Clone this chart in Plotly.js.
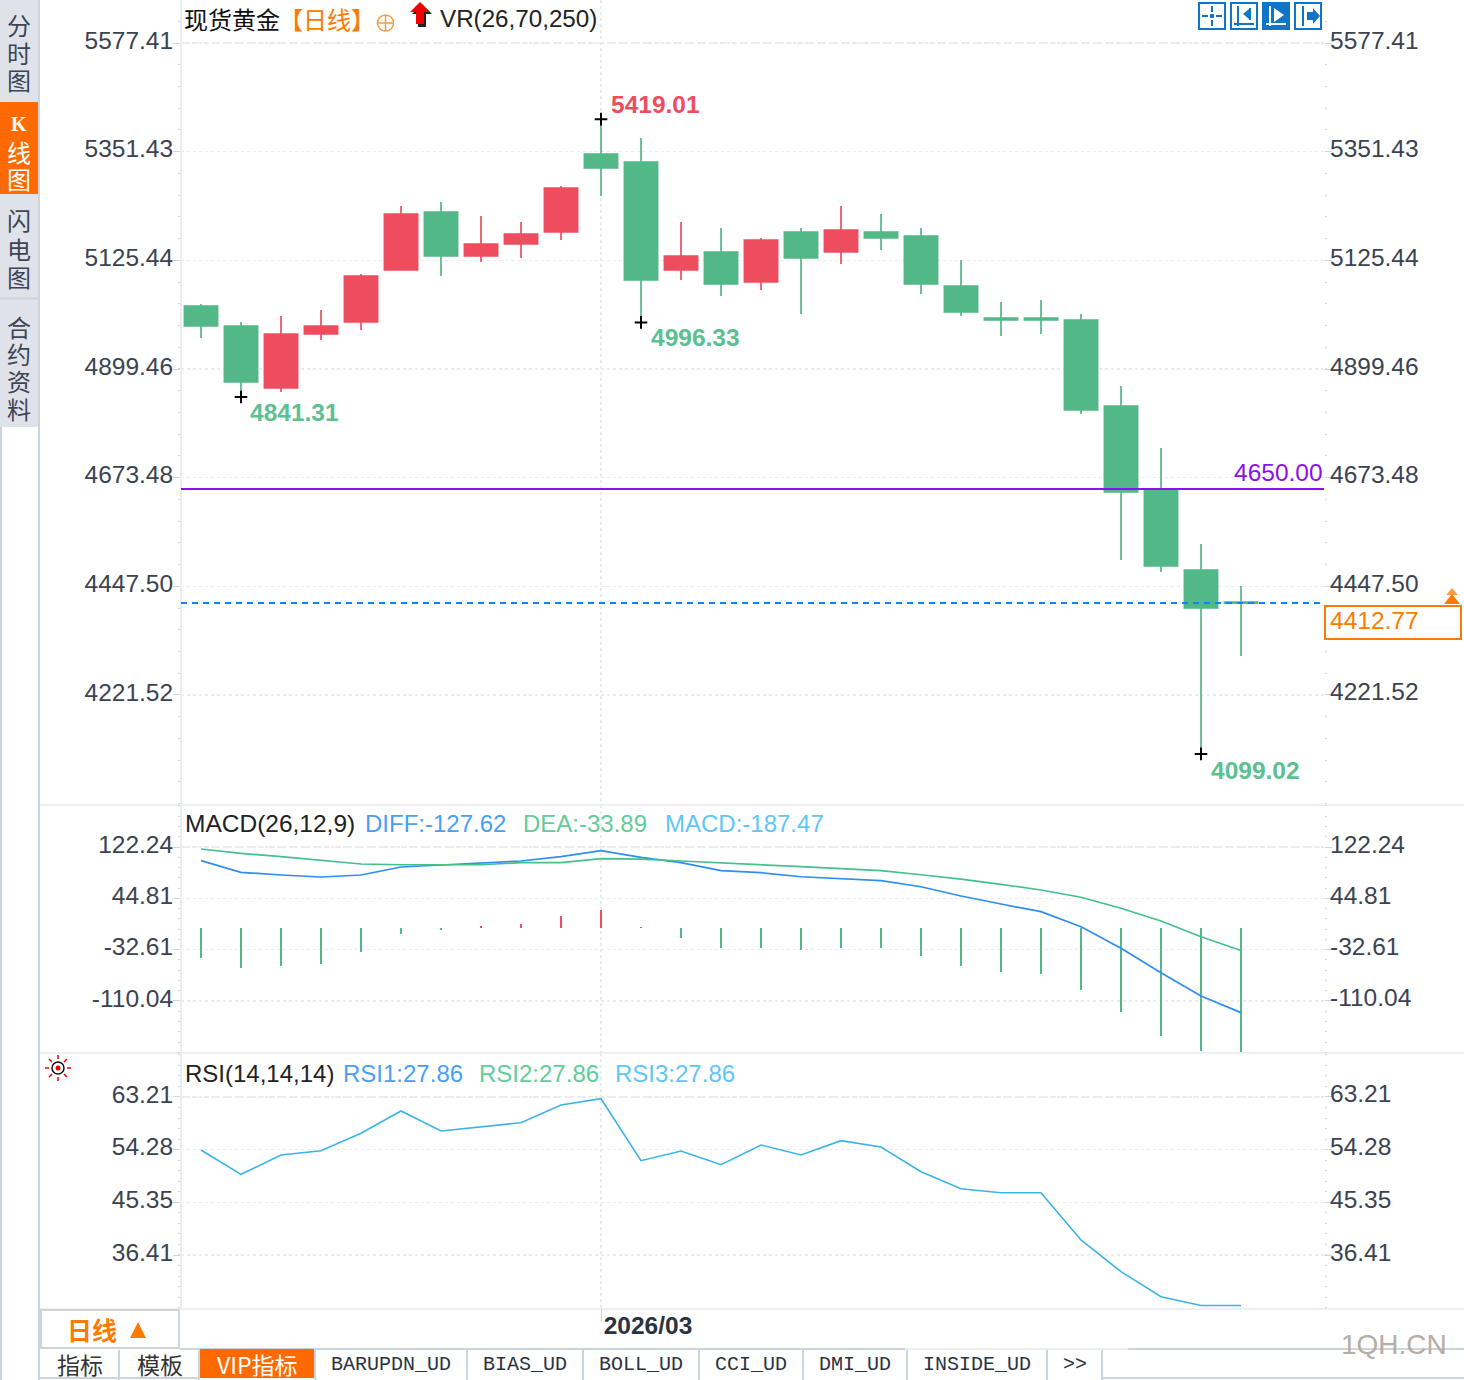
<!DOCTYPE html>
<html><head><meta charset="utf-8">
<script src="https://cdn.plot.ly/plotly-3.0.1.min.js"></script>
<style>html,body{margin:0;padding:0;background:#fff;overflow:hidden}#c{width:1464px;height:1380px}</style>
</head><body><div id="c"></div>
<script>
const idx=[0,1,2,3,4,5,6,7,8,9,10,11,12,13,14,15,16,17,18,19,20,21,22,23,24,25,26];
const opens=[5030.47,4988.88,4859.95,4972.24,4997.20,5105.34,5225.95,5134.46,5159.41,5184.36,5346.57,5329.93,5105.34,5142.77,5080.38,5184.36,5142.77,5184.36,5176.05,5072.07,5005.52,5005.52,5001.36,4822.51,4647.83,4481.45,4414.91];
const highs=[5034.63,4997.20,5009.68,5022.15,5097.02,5238.43,5246.75,5217.64,5205.16,5280.02,5419.01,5379.84,5205.16,5192.68,5171.89,5192.68,5238.43,5221.80,5192.68,5126.13,5038.79,5042.95,5013.84,4864.10,4735.17,4535.53,4448.18];
const lows=[4963.93,4841.31,4851.63,4959.77,4980.56,5105.34,5092.86,5121.98,5130.30,5167.73,5259.23,4996.33,5084.54,5051.27,5063.75,5013.84,5117.82,5146.93,5055.43,5009.68,4968.08,4972.24,4805.87,4502.25,4477.30,4099.02,4302.61];
const closes=[4988.88,4872.42,4972.24,4988.88,5092.86,5221.80,5134.46,5159.41,5180.21,5275.87,5317.46,5084.54,5134.46,5076.22,5167.73,5130.30,5188.52,5171.89,5076.22,5018.00,5001.36,5001.36,4814.19,4643.67,4489.77,4402.43,4412.77];
const diff=[101.6,84.1,80.0,77.0,80.0,92.1,95.1,98.6,101.1,107.6,116.7,106.7,98.6,86.5,83.5,77.4,74.4,71.4,62.3,48.3,36.2,24.7,2.0,-30.6,-67.4,-102.5,-127.62];
const dea=[119.2,112.7,107.6,101.6,96.6,95.5,95.5,95.5,98.6,98.6,104.6,104.1,101.1,98.6,95.5,92.5,89.5,86.5,80.4,73.9,65.9,57.4,46.4,29.8,10.6,-13.1,-33.89];
const macd=[-45.3,-60.3,-57.3,-54.3,-36.2,-9.1,-3.0,3.0,6.0,18.1,27.2,2.3,-15.1,-30.2,-30.2,-33.2,-30.2,-30.2,-42.2,-57.3,-66.4,-69.4,-93.5,-126.7,-162.9,-186.0,-187.47];
const rsi=[54.22,50.10,53.38,54.10,57.05,60.84,57.45,58.12,58.85,61.85,62.92,52.41,54.05,51.73,55.07,53.38,55.80,54.73,50.54,47.66,46.98,46.98,38.96,33.59,29.35,27.86,27.86];
const priceTicks=[5577.41,5351.43,5125.44,4899.46,4673.48,4447.50,4221.52];
const macdTicks=[122.24,44.81,-32.61,-110.04];
const rsiTicks=[63.21,54.28,45.35,36.41];
const fmt=v=>v.toFixed(2);
const extremes=[{i:10,v:5419.01,c:'#ee4d5f',dx:9,dy:15},{i:1,v:4841.31,c:'#5cc093',dx:8,dy:-16},{i:11,v:4996.33,c:'#5cc093',dx:9,dy:-15},{i:25,v:4099.02,c:'#5cc093',dx:9,dy:-17}];
const alertLevel=4650.00, lastPrice=4412.77;

const W=1464,H=1380,FS=24.5,SANS='"Liberation Sans",Arial,sans-serif',CJK='"Noto Sans CJK SC","Noto Sans",sans-serif',RAIL='"Liberation Sans","Noto Sans CJK SC",sans-serif',MONO='"Liberation Mono",monospace';
const GREEN='#53b887',RED='#ee4d5f',TICK='#3b4351',ORANGE='#ff7a00',BORDER='#cdd5dc',SEP='#ecf0f4';
const fx=x=>x/W,fy=y=>1-y/H;
const shapes=[],ann=[];
function rect(x0,y0,x1,y1,fill,line,lw,layer){shapes.push({type:'rect',xref:'paper',yref:'paper',x0:fx(x0),x1:fx(x1),y0:fy(y0),y1:fy(y1),fillcolor:fill||'rgba(0,0,0,0)',line:{width:line?(lw||1):0,color:line||'rgba(0,0,0,0)'},layer:layer||'above'});}
function seg(x0,y0,x1,y1,c,w,dash,layer){shapes.push({type:'line',xref:'paper',yref:'paper',x0:fx(x0),x1:fx(x1),y0:fy(y0),y1:fy(y1),line:{color:c,width:w||1,dash:dash||'solid'},layer:layer||'above'});}
function poly(pts,fill,line,lw){shapes.push({type:'path',xref:'paper',yref:'paper',path:'M'+pts.map(p=>fx(p[0])+' '+fy(p[1])).join(' L')+' Z',fillcolor:fill,line:{width:line?(lw||1):0,color:line||'rgba(0,0,0,0)'},layer:'above'});}
function circ(cx,cy,r,fill,line,lw){shapes.push({type:'circle',xref:'paper',yref:'paper',x0:fx(cx-r),x1:fx(cx+r),y0:fy(cy-r),y1:fy(cy+r),fillcolor:fill||'rgba(0,0,0,0)',line:{width:line?(lw||1):0,color:line||'rgba(0,0,0,0)'},layer:'above'});}
function txt(s,x,y,anchor,color,size,family,bold){ann.push({text:bold?'<b>'+s+'</b>':s,xref:'paper',yref:'paper',x:fx(x),y:fy(y),xanchor:anchor,yanchor:'middle',showarrow:false,borderpad:0,font:{family:family||SANS,size:size||FS,color:color||TICK}});}

// left rail
rect(0,0,38,427,'#e0e2ea',null,0,'below');
rect(0,102,38,194,'#ff6a00',null,0,'below');
seg(0,298.5,38,298.5,'#c9d1d9',2,'solid','below');
seg(39,0,39,1380,BORDER,2,'solid','below');
seg(1,427,1,1380,BORDER,2,'solid','below');
[['分',27],['时',55],['图',82],['线',153,'#fff'],['图',180,'#fff'],['闪',222],['电',250],['图',278],['合',328],['约',355],['资',382],['料',410]].forEach(a=>txt(a[0],19,a[1],'center',a[2]||'#3d4555',24,RAIL));
txt('K',19,124,'center','#fff',20,'"Liberation Serif",serif',true);
// pane separators and spine
[805,1053,1309].forEach(y=>seg(40,y,1464,y,SEP,2,'solid','below'));
seg(181,0,181,1309,'#e9eef2',2,'solid','below');
// header row
txt('现货黄金',183,19,'left','#111',24,CJK);
txt('【日线】',278,19,'left',ORANGE,24,CJK);
circ(385.5,23,8,null,'#ff9a40',1.5);seg(377,23,394,23,'#ff9a40',1.5);seg(385.5,15,385.5,31,'#ff9a40',1.5);
poly([[422,4],[432,14],[426,14],[426,27],[418,27],[418,14],[412,14]],'#222');
poly([[420,2],[430,12],[424,12],[424,24],[416,24],[416,12],[410,12]],'#f00000');
txt('VR(26,70,250)',439,19,'left','#222',24.2);
// toolbar
const tb='#0f75c8';
[1199,1231,1263,1295].forEach((x,i)=>rect(x,3,x+26,29,i==2?tb:'#fff',tb,2));
seg(1212,6,1212,12,tb,2);seg(1212,20,1212,26,tb,2);seg(1202,16,1208,16,tb,2);seg(1216,16,1222,16,tb,2);rect(1210,14,1214,18,tb);
seg(1238,6,1238,26,tb,2);seg(1234,24,1254,24,tb,2);seg(1250,8,1250,20,tb,2);poly([[1249,9],[1243,14],[1249,19]],tb);
seg(1270,6,1270,26,'#fff',2);seg(1266,24,1286,24,'#fff',2);poly([[1274,8],[1284,15],[1274,22]],'#fff');
seg(1303,6,1303,26,tb,2);poly([[1307,12],[1313,12],[1313,8],[1320,16],[1313,24],[1313,20],[1307,20]],tb);
// MACD / RSI headers
txt('MACD(26,12,9)',184,823,'left','#222');
txt('DIFF:-127.62',364,823,'left','#4a9ff5',24);
txt('DEA:-33.89',522,823,'left','#62cc9a',24);
txt('MACD:-187.47',664,823,'left','#5fc6f5',24);
txt('RSI(14,14,14)',184,1073,'left','#222',24);
txt('RSI1:27.86',342,1073,'left','#4a9ff5',24);
txt('RSI2:27.86',478,1073,'left','#62cc9a',24);
txt('RSI3:27.86',614,1073,'left','#5fc6f5',24);
// sun icon
circ(58,1068,6,'#fff','#111',1.5);circ(58,1068,2.5,'#f00000');
[[58,1055,58,1059],[58,1077,58,1081],[45,1068,49,1068],[67,1068,71,1068],[49,1059,52,1062],[64,1074,67,1077],[49,1077,52,1074],[64,1062,67,1059]].forEach(s=>seg(s[0],s[1],s[2],s[3],'#f00000',1.5));
// right tick labels
function rightLabels(t,yr){t.forEach(v=>ann.push({text:fmt(v),xref:'paper',yref:yr,x:fx(1329),y:v,xanchor:'left',yanchor:'middle',yshift:3,showarrow:false,borderpad:0,font:{family:SANS,size:FS,color:TICK}}));}
rightLabels(priceTicks,'y');rightLabels(macdTicks,'y2');rightLabels(rsiTicks,'y3');
// extreme labels
extremes.forEach(e=>ann.push({text:'<b>'+fmt(e.v)+'</b>',xref:'x',yref:'y',x:e.i,y:e.v,xanchor:'left',yanchor:'middle',xshift:e.dx,yshift:e.dy,showarrow:false,borderpad:0,font:{family:SANS,size:FS,color:e.c}}));
// alert and last-price lines
shapes.push({type:'line',xref:'paper',yref:'y',x0:fx(181),x1:fx(1324),y0:alertLevel,y1:alertLevel,line:{color:'#8a10f0',width:2},layer:'above'});
shapes.push({type:'line',xref:'paper',yref:'y',x0:fx(181),x1:fx(1324),y0:lastPrice,y1:lastPrice,line:{color:'#0a84ff',width:2,dash:'6px,5px'},layer:'above'});
ann.push({text:fmt(alertLevel),xref:'paper',yref:'y',x:fx(1324),y:alertLevel,xanchor:'right',yanchor:'middle',yshift:16,showarrow:false,borderpad:0,font:{family:SANS,size:FS,color:'#8a10f0'}});
rect(1325,606,1461,639,'#fff',ORANGE,2);
txt(fmt(lastPrice),1329,621,'left',ORANGE);
poly([[1452,588],[1458,595],[1446,595]],'#ff9a40');poly([[1452,594],[1460,604],[1444,604]],ORANGE);
// top gridlines are dashed
[['y',priceTicks[0]],['y2',macdTicks[0]],['y3',rsiTicks[0]]].forEach(a=>shapes.push({type:'line',xref:'paper',yref:a[0],x0:fx(181),x1:fx(1324),y0:a[1],y1:a[1],line:{color:'#e6eaee',width:1.5,dash:'6px,5px'},layer:'below'}));
// bottom strip
rect(41,1310,179,1348,'#fff',BORDER,2);
txt('日线',66,1329,'left',ORANGE,25,CJK,true);
poly([[138,1322],[146,1338],[130,1338]],ORANGE);
seg(180,1349,905,1349,BORDER,2);seg(905,1349,1128,1349,'#eceff2',2);seg(1128,1349,1464,1349,BORDER,2);
seg(1102,1378,1464,1378,BORDER,2);
seg(40,1378,200,1378,BORDER,2);
rect(200,1349,314,1378,'#ff6a00');
[119,199,315,467,583,699,803,907,1047,1102].forEach(x=>seg(x,1350,x,1380,BORDER,2));
txt('指标',80,1364,'center','#333',23,CJK);
txt('模板',160,1364,'center','#333',23,CJK);
txt('VIP指标',257,1364,'center','#fff',23,CJK);
[['BARUPDN_UD',391],['BIAS_UD',525],['BOLL_UD',641],['CCI_UD',751],['DMI_UD',855],['INSIDE_UD',977],['>>',1075]].forEach(a=>txt(a[0],a[1],1364,'center','#2b3340',20,MONO));
txt('1QH.CN',1394,1344,'center','#b5aea8',28);

function yaxis(domPx,range,ticks,step){return{
  domain:[fy(domPx[1]),fy(domPx[0])],range:range,anchor:'x',tickmode:'array',tickvals:ticks,ticktext:ticks.map(fmt),
  tickfont:{family:SANS,size:FS,color:TICK},ticks:'outside',ticklen:7,tickcolor:'#cfd6dc',ticklabelshift:-3,ticklabelstandoff:-5,
  showgrid:true,gridcolor:'#e9ecee',griddash:'dot',gridwidth:1.5,zeroline:false,showline:false,mirror:'allticks',
  minor:{tickmode:'linear',tick0:ticks[0],dtick:step,ticks:'outside',ticklen:2,tickcolor:'#cfd6dc',showgrid:false},fixedrange:true};}

const traces=[
 {type:'candlestick',x:idx,open:opens,high:highs,low:lows,close:closes,xaxis:'x',yaxis:'y',whiskerwidth:0,
  increasing:{line:{color:RED,width:1.7},fillcolor:RED},decreasing:{line:{color:GREEN,width:1.7},fillcolor:GREEN},hoverinfo:'skip',showlegend:false},
 {type:'scatter',mode:'markers',x:extremes.map(e=>e.i),y:extremes.map(e=>e.v),xaxis:'x',yaxis:'y',marker:{symbol:'cross-thin',size:9,line:{color:'#000',width:2}},hoverinfo:'skip',showlegend:false},
 {type:'bar',x:idx,y:macd,width:0.04,xaxis:'x',yaxis:'y2',marker:{color:macd.map(v=>v<0?GREEN:RED),line:{width:0}},hoverinfo:'skip',showlegend:false},
 {type:'scatter',mode:'lines',x:idx,y:diff,xaxis:'x',yaxis:'y2',line:{color:'#2e8ff0',width:1.7},hoverinfo:'skip',showlegend:false},
 {type:'scatter',mode:'lines',x:idx,y:dea,xaxis:'x',yaxis:'y2',line:{color:'#45c08a',width:1.7},hoverinfo:'skip',showlegend:false},
 {type:'scatter',mode:'lines',x:idx,y:rsi,xaxis:'x',yaxis:'y3',line:{color:'#3ab4e8',width:1.6},hoverinfo:'skip',showlegend:false}
];
const layout={width:W,height:H,margin:{l:0,r:0,t:0,b:0},paper_bgcolor:'#fff',plot_bgcolor:'rgba(0,0,0,0)',showlegend:false,hovermode:false,boxgap:0.17,boxgroupgap:0,bargap:0,
 xaxis:{domain:[fx(181),fx(1324)],range:[-0.5,28.075],anchor:'y3',tickmode:'array',tickvals:[10],ticktext:['2026/03'],
  tickfont:{family:SANS,size:FS,color:'#2a3340',weight:700},ticks:'outside',ticklen:12,tickcolor:'#cfd6dc',ticklabelshift:47,ticklabelstandoff:-16,
  showgrid:true,gridcolor:'#e9ecee',griddash:'dot',gridwidth:1.5,zeroline:false,showline:false,rangeslider:{visible:false},fixedrange:true},
 yaxis:yaxis([0,805],[3992.75,5666.83],priceTicks,45.196),
 yaxis2:yaxis([805,1053],[-188.5,185.6],macdTicks,15.486),
 yaxis3:yaxis([1053,1308],[27.43,70.67],rsiTicks,1.786),
 shapes:shapes,annotations:ann};
Plotly.newPlot('c',traces,layout,{displayModeBar:false,staticPlot:true});
</script></body></html>
